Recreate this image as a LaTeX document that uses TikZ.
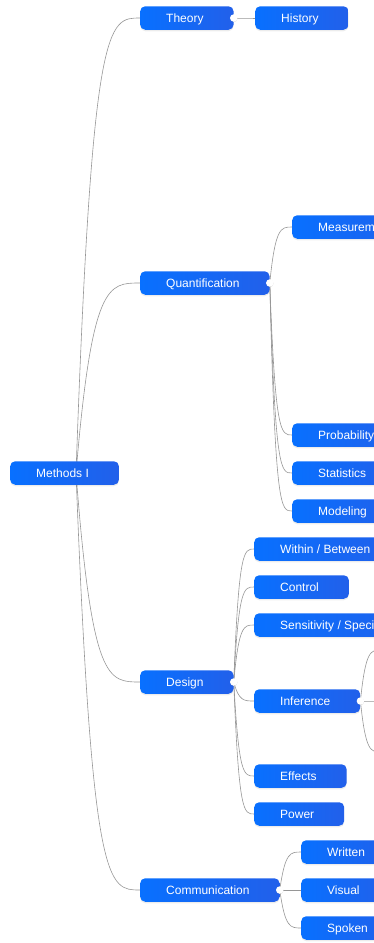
\documentclass[tikz,border=0pt]{standalone}
\usepackage{fontspec}
\setmainfont{Liberation Sans}
\usetikzlibrary{calc,shadows,backgrounds}
\definecolor{nodeblueL}{RGB}{8,112,255}
\definecolor{nodeblueR}{RGB}{34,96,234}
\definecolor{linkgray}{RGB}{150,150,150}
\begin{document}
\begin{tikzpicture}[x=1pt, y=-1pt,
        topic/.style={anchor=west, rounded corners=5pt, left color=nodeblueL, right color=nodeblueR,
            text=white, font=\fontsize{12}{14}\selectfont, text height=9.4pt, text depth=1.4pt,
            minimum height=23.5pt, inner ysep=0pt, inner xsep=26pt, execute at end node={\hspace*{4pt}},
            drop shadow={shadow xshift=0pt, shadow yshift=-1.5pt, opacity=0.15}},
        knob/.style={circle, fill=white, inner sep=0pt, minimum size=7.5pt,
            drop shadow={shadow xshift=0pt, shadow yshift=-0.5pt, opacity=0.25}},
        link/.style={draw=linkgray, line width=0.6pt,
            to path={let \p1=(\tikztostart), \p2=(\tikztotarget) in
                .. controls ({\x1+0.25*(\x2-\x1)},\y2) and ({\x1+0.5*(\x2-\x1)},\y2) .. (\tikztotarget)}}]
        \useasboundingbox (0,0) rectangle (373,943);

        % root and main branches
        \node[topic] (root) at (10,473) {Methods I};
        \node[topic] (theory) at (140,18) {Theory};
        \node[topic] (quant) at (140,283) {Quantification};
        \node[topic] (design) at (140,682) {Design};
        \node[topic] (comm) at (140,890) {Communication};

        \node[topic] (history) at (255,18) {History};

        \node[topic] (meas) at (292,227) {Measurement};
        \node[topic] (prob) at (292,435) {Probability};
        \node[topic] (stat) at (292,473) {Statistics};
        \node[topic] (model) at (292,511) {Modeling};

        \node[topic] (within) at (254,549) {Within / Between};
        \node[topic] (control) at (254,587) {Control};
        \node[topic] (sens) at (254,625) {Sensitivity / Specificity};
        \node[topic] (infer) at (254,701) {Inference};
        \node[topic] (effects) at (254,776) {Effects};
        \node[topic] (power) at (254,814) {Power};

        \node[topic] (written) at (301,852) {Written};
        \node[topic] (visual) at (301,890) {Visual};
        \node[topic] (spoken) at (301,928) {Spoken};

        \coordinate (hub) at (76,473);
        \coordinate (infA) at (381,650);
        \coordinate (infB) at (381,701);
        \coordinate (infC) at (381,752);

        \begin{scope}[on background layer]
            \foreach \c in {theory,quant,design,comm}
                \draw[link] (hub) to (\c.west);
            \draw[link] (theory.east) to (history.west);
            \foreach \c in {meas,prob,stat,model}
                \draw[link] (quant.east) to (\c.west);
            \foreach \c in {within,control,sens,infer,effects,power}
                \draw[link] (design.east) to (\c.west);
            \foreach \c in {infA,infB,infC}
                \draw[link] (infer.east) to (\c);
            \foreach \c in {written,visual,spoken}
                \draw[link] (comm.east) to (\c.west);
        \end{scope}

        \foreach \c in {theory,quant,design,infer,comm}
            \node[knob] at (\c.east) {};
    \end{tikzpicture}
\end{document}
